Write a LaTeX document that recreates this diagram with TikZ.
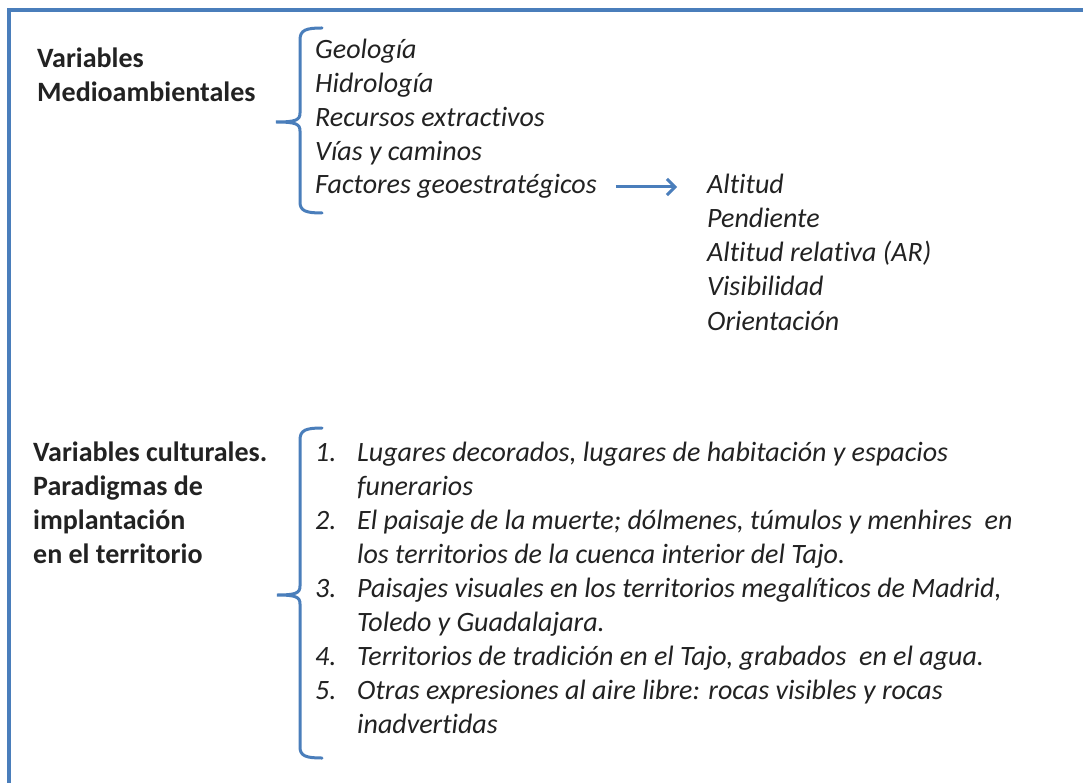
\documentclass[tikz,border=0pt]{standalone}
\usepackage{fontspec}
\setmainfont{Carlito}[Ligatures={NoCommon}]
\usetikzlibrary{arrows.meta}
\definecolor{frameblue}{HTML}{4A7EBB}
\definecolor{txt}{HTML}{222222}
\begin{document}
\begin{tikzpicture}[x=1pt,y=-1pt,
  lbl/.style={anchor=base west, inner sep=0pt, text=txt, font=\fontsize{28}{34}\selectfont\bfseries},
  itm/.style={anchor=base west, inner sep=0pt, text=txt, font=\fontsize{28}{34}\selectfont\itshape},
  brk/.style={draw=frameblue, line width=3pt, line cap=round},
  frm/.style={draw=frameblue, line width=3.5pt},
  arr/.style={draw=frameblue, line width=3pt, -{Straight Barb[length=8pt,width=16pt,line width=3pt]}}]
\useasboundingbox (0,0) rectangle (1083,783);
\clip (0,0) rectangle (1083,783);
\fill[white] (0,0) rectangle (1083,783);
% frame
\coordinate (fbl) at (9,800);
\coordinate (ftl) at (9,10);
\coordinate (ftr) at (1100,10);
\draw[frm] (fbl) -- (ftl) -- (ftr);

% ---- top section
\node[lbl] (va1) at (37,68) {Variables};
\node[lbl] (va2) at (37,102) {Medioambientales};

\node[itm] (geo) at (315,59) {Geología};
\node[itm] (hid) at (315,93) {Hidrología};
\node[itm] (rec) at (315,127) {Recursos extractivos};
\node[itm] (via) at (315,161) {Vías y caminos};
\node[itm] (fac) at (315,194) {Factores geoestratégicos};

\node[itm] (alt) at (707,194) {Altitud};
\node[itm] (pen) at (707,228) {Pendiente};
\node[itm] (alr) at (707,262) {Altitud relativa (AR)};
\node[itm] (vis) at (707,296) {Visibilidad};
\node[itm] (ori) at (707,330) {Orientación};

\draw[arr] ([xshift=19pt,yshift=7pt]fac.base east) -- ([xshift=-30pt,yshift=7pt]alt.base west);

% top brace
\coordinate (b1t) at (322,28);
\coordinate (b1tip) at (276,122);
\coordinate (b1b) at (322,213);
\draw[brk] (b1t) .. controls (306,28) and (300,30) .. (300,40) -- (300,113)
  .. controls (300,120) and (296,122) .. (b1tip)
  .. controls (296,122) and (300,124) .. (300,131) -- (300,202)
  .. controls (300,211) and (306,213) .. (b1b);

% ---- bottom section
\node[lbl] (vc1) at (33,461) {Variables culturales.};
\node[lbl] (vc2) at (33,495) {Paradigmas de};
\node[lbl] (vc3) at (33,529) {implantación};
\node[lbl] (vc4) at (33,563) {en el territorio};

\node[itm] (n1) at (315,461) {1.};
\node[itm] (l1a) at (357,461) {Lugares decorados, lugares de habitación y espacios};
\node[itm] (l1b) at (357,495) {funerarios};
\node[itm] (n2) at (315,529) {2.};
\node[itm] (l2a) at (357,529) {El paisaje de la muerte; dólmenes, túmulos y menhires\ \ en};
\node[itm] (l2b) at (357,563) {los territorios de la cuenca interior del Tajo.};
\node[itm] (n3) at (315,597) {3.};
\node[itm] (l3a) at (357,597) {Paisajes visuales en los territorios megalíticos de Madrid,};
\node[itm] (l3b) at (357,631) {Toledo y Guadalajara.};
\node[itm] (n4) at (315,665) {4.};
\node[itm] (l4a) at (357,665) {Territorios de tradición en el Tajo, grabados\ \ en el agua.};
\node[itm] (n5) at (315,699) {5.};
\node[itm] (l5a) at (357,699) {Otras expresiones al aire libre: rocas visibles y rocas};
\node[itm] (l5b) at (357,733) {inadvertidas};

% bottom brace
\coordinate (b2t) at (322,428);
\coordinate (b2tip) at (277,595);
\coordinate (b2b) at (322,758);
\draw[brk] (b2t) .. controls (306,428) and (300,430) .. (300,440) -- (300,586)
  .. controls (300,593) and (296,595) .. (b2tip)
  .. controls (296,595) and (300,597) .. (300,604) -- (300,747)
  .. controls (300,756) and (306,758) .. (b2b);
\end{tikzpicture}
\end{document}
